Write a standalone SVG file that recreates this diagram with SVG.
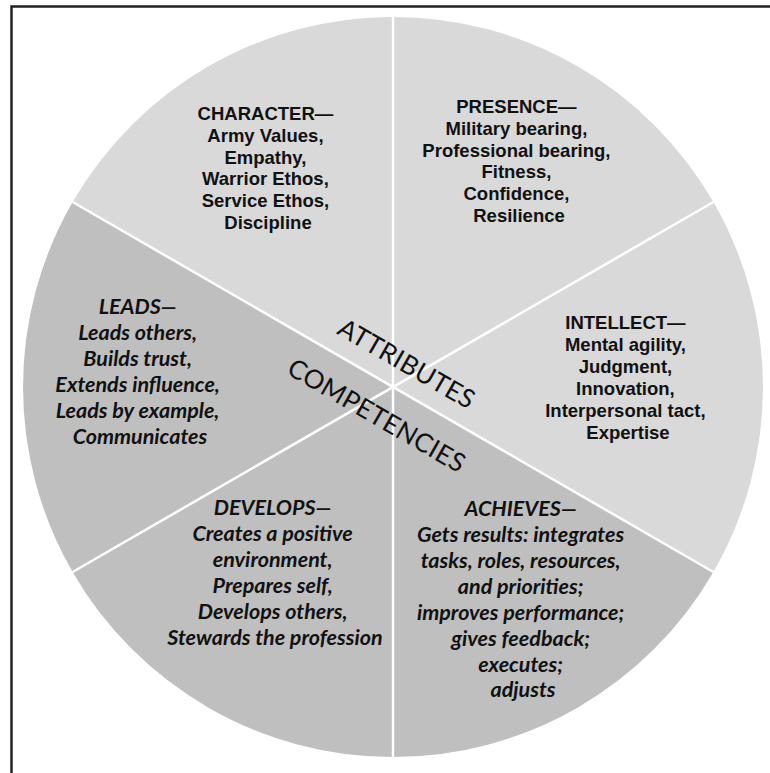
<svg xmlns="http://www.w3.org/2000/svg" width="770" height="773" viewBox="0 0 770 773">
  <style>
    .attr { fill: #d9d9d9; }
    .comp { fill: #bfbfbf; }
    .up { font-family: "Liberation Sans", Arial, sans-serif; font-weight: bold; font-size: 18.5px; fill: #111; text-anchor: middle; }
    .it { font-family: Lato, "Liberation Sans", sans-serif; font-weight: bold; font-style: italic; font-size: 21.5px; fill: #111; text-anchor: middle; }
    .big { font-family: Lato, "Liberation Sans", sans-serif; font-size: 26px; fill: #111; text-anchor: middle; }
    .div { stroke: #ffffff; stroke-width: 2.5; fill: none; }
  </style>
  <rect x="0" y="0" width="770" height="773" fill="#ffffff"/>
  <path d="M11.5,775 V6.5 H772" fill="none" stroke="#222" stroke-width="2.5"/>

  <g id="character">
    <path class="attr" d="M393,387 L393,17 A370,370 0 0,0 72.6,202 Z"/>
    <text class="up">
      <tspan x="268" y="120">CHARACTER—</tspan>
      <tspan x="268" y="141.8">Army Values,</tspan>
      <tspan x="268" y="163.6">Empathy,</tspan>
      <tspan x="268" y="185.4">Warrior Ethos,</tspan>
      <tspan x="268" y="207.2">Service Ethos,</tspan>
      <tspan x="268" y="229">Discipline</tspan>
    </text>
  </g>

  <g id="presence">
    <path class="attr" d="M393,387 L713.4,202 A370,370 0 0,0 393,17 Z"/>
    <text class="up">
      <tspan x="519" y="113">PRESENCE—</tspan>
      <tspan x="519" y="134.8">Military bearing,</tspan>
      <tspan x="519" y="156.6">Professional bearing,</tspan>
      <tspan x="519" y="178.4">Fitness,</tspan>
      <tspan x="519" y="200.2">Confidence,</tspan>
      <tspan x="519" y="222">Resilience</tspan>
    </text>
  </g>

  <g id="intellect">
    <path class="attr" d="M393,387 L713.4,572 A370,370 0 0,0 713.4,202 Z"/>
    <text class="up">
      <tspan x="628" y="329">INTELLECT—</tspan>
      <tspan x="628" y="351">Mental agility,</tspan>
      <tspan x="628" y="373">Judgment,</tspan>
      <tspan x="628" y="395">Innovation,</tspan>
      <tspan x="628" y="417">Interpersonal tact,</tspan>
      <tspan x="628" y="439">Expertise</tspan>
    </text>
  </g>

  <g id="achieves">
    <path class="comp" d="M393,387 L393,757 A370,370 0 0,0 713.4,572 Z"/>
    <text class="it">
      <tspan x="523" y="516">ACHIEVES—</tspan>
      <tspan x="523" y="542">Gets results: integrates</tspan>
      <tspan x="523" y="568">tasks, roles, resources,</tspan>
      <tspan x="523" y="594">and priorities;</tspan>
      <tspan x="523" y="620">improves performance;</tspan>
      <tspan x="523" y="646">gives feedback;</tspan>
      <tspan x="523" y="672">executes;</tspan>
      <tspan x="523" y="697">adjusts</tspan>
    </text>
  </g>

  <g id="develops">
    <path class="comp" d="M393,387 L72.6,572 A370,370 0 0,0 393,757 Z"/>
    <text class="it">
      <tspan x="275" y="515">DEVELOPS—</tspan>
      <tspan x="275" y="541">Creates a positive</tspan>
      <tspan x="275" y="567">environment,</tspan>
      <tspan x="275" y="593">Prepares self,</tspan>
      <tspan x="275" y="619">Develops others,</tspan>
      <tspan x="275" y="645">Stewards the profession</tspan>
    </text>
  </g>

  <g id="leads">
    <path class="comp" d="M393,387 L72.6,202 A370,370 0 0,0 72.6,572 Z"/>
    <text class="it">
      <tspan x="140" y="314">LEADS—</tspan>
      <tspan x="140" y="340">Leads others,</tspan>
      <tspan x="140" y="366">Builds trust,</tspan>
      <tspan x="140" y="392">Extends influence,</tspan>
      <tspan x="140" y="418">Leads by example,</tspan>
      <tspan x="140" y="444">Communicates</tspan>
    </text>
  </g>

  <g id="connectors">
    <line class="div" x1="393" y1="17" x2="393" y2="757"/>
    <line class="div" x1="72.6" y1="202" x2="713.4" y2="572"/>
    <line class="div" x1="72.6" y1="572" x2="713.4" y2="202"/>
  </g>

  <g id="labels" transform="translate(393,387) rotate(30)">
    <text class="big" x="0" y="-18" textLength="153" lengthAdjust="spacing">ATTRIBUTES</text>
    <text class="big" x="0" y="42" textLength="200" lengthAdjust="spacing">COMPETENCIES</text>
  </g>
</svg>
